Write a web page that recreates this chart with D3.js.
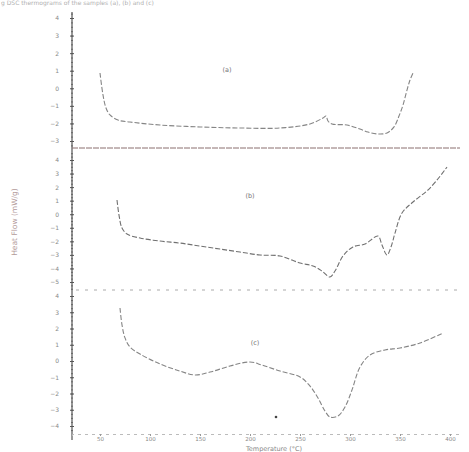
<!DOCTYPE html>
<html><head><meta charset="utf-8">
<script src="https://cdn.jsdelivr.net/npm/d3@7/dist/d3.min.js"></script>
<style>
html,body{margin:0;padding:0;background:#fff;}
svg{display:block;font-family:"DejaVu Sans",sans-serif;}
</style></head>
<body>
<svg id="chart" width="469" height="452"></svg>
<script>
// Temperature axis
const xTicks = [50, 100, 150, 200, 250, 300, 350, 400];

// Curve (a)
const tempA = [50,53,56,60,68,80,110,150,190,230,260,273,276,278,282,297,310,318,328,337,344,349,353,357,360,363];
const flowA = [0.87,-0.38,-1.12,-1.52,-1.81,-1.92,-2.09,-2.20,-2.26,-2.26,-2.03,-1.69,-1.58,-1.86,-2.03,-2.09,-2.32,-2.49,-2.60,-2.54,-2.20,-1.58,-0.95,-0.10,0.47,0.87];

// Curve (b)
const tempB = [67,69,72,77,90,110,130,150,170,190,210,230,250,263,272,280,285,293,303,315,328,332,337,341,345,352,363,380,397];
const flowB = [1.05,-0.06,-1.02,-1.46,-1.76,-1.98,-2.13,-2.35,-2.57,-2.79,-3.01,-3.08,-3.60,-3.82,-4.19,-4.63,-4.19,-3.08,-2.41,-2.20,-1.61,-2.27,-3.01,-2.42,-1.39,0.09,0.90,1.93,3.48];

// Curve (c)
const tempC = [70,72,75,80,90,110,130,145,160,180,200,212,230,250,260,268,275,280,288,295,302,310,320,335,350,370,393];
const flowC = [3.26,2.22,1.42,0.86,0.43,-0.18,-0.62,-0.86,-0.68,-0.31,-0.06,-0.25,-0.62,-0.98,-1.54,-2.28,-3.08,-3.45,-3.38,-2.83,-1.78,-0.37,0.37,0.68,0.80,1.11,1.72];

// Y tick labels per panel
const yTicksA = [4, 3, 2, 1, 0, -1, -2, -3];
const yTicksB = [4, 3, 2, 1, 0, -1, -2, -3, -4, -5];
const yTicksC = [4, 3, 2, 1, 0, -1, -2, -3, -4];

// Isolated marker in panel (c)
const markT = [226];
const markV = [-3.45];

const panelNames = ["(a)", "(b)", "(c)"];
const labelT = [177, 200, 205];
const labelV = [0.9, 1.2, 1.0];

const svg = d3.select("#chart");
const axisX0 = 72, axisX1 = 460;
const x = d3.scaleLinear().domain([22, 410]).range([axisX0, axisX1]);

// Vertical layout of the three stacked panels
const panels = [
  {temp: tempA, flow: flowA, ticks: yTicksA, top: 10, bottom: 148,
   y: d3.scaleLinear().domain([4, -3]).range([18, 141])},
  {temp: tempB, flow: flowB, ticks: yTicksB, top: 148, bottom: 290,
   y: d3.scaleLinear().domain([4, -5]).range([160, 282])},
  {temp: tempC, flow: flowC, ticks: yTicksC, top: 290, bottom: 434,
   y: d3.scaleLinear().domain([4, -4]).range([296, 426])}
];

// Caption line along the top edge
svg.append("text").attr("x", 1).attr("y", 5)
  .attr("font-size", 6).attr("fill", "#b0b0b0")
  .text("g  DSC thermograms of the samples (a), (b) and (c)");

// Continuous left axis line
svg.append("line").attr("x1", axisX0).attr("x2", axisX0)
  .attr("y1", 12).attr("y2", 440)
  .attr("stroke", "#555").attr("stroke-width", 1.2);

panels.forEach((p, i) => {
  // minor ticks
  const minor = d3.range(Math.ceil(p.y.invert(p.bottom) * 4) / 4, p.y.invert(p.top + 2), 0.25);
  const gMinor = svg.append("g").attr("transform", `translate(${axisX0},0)`)
    .call(d3.axisLeft(p.y).tickValues(minor).tickSize(2).tickFormat(""));
  gMinor.select(".domain").remove();
  gMinor.selectAll("line").attr("stroke", "#666").attr("transform", "translate(1,0)");

  const g = svg.append("g").attr("transform", `translate(${axisX0},0)`)
    .call(d3.axisLeft(p.y).tickValues(p.ticks).tickSize(4).tickPadding(9).tickFormat(d3.format("d")));
  g.select(".domain").remove();
  g.selectAll("line").attr("stroke", "#555").attr("transform", "translate(2,0)");
  g.selectAll("text").attr("font-size", 6).attr("fill", "#888").attr("font-family", "DejaVu Sans");

  // curve
  const line = d3.line().curve(d3.curveCatmullRom.alpha(0.5))
    .x((d, k) => x(p.temp[k])).y((d, k) => p.y(p.flow[k]));
  svg.append("path").datum(p.flow).attr("d", line)
    .attr("fill", "none").attr("stroke", i === 1 ? "#707070" : "#858585")
    .attr("stroke-width", 1.1).attr("stroke-dasharray", "5,2");

  // panel label
  svg.append("text").attr("x", x(labelT[i])).attr("y", p.y(labelV[i]))
    .attr("font-size", 6.5).attr("fill", "#777").attr("text-anchor", "middle")
    .text(panelNames[i]);
});

// Panel separators
svg.append("line").attr("x1", axisX0).attr("x2", axisX1)
  .attr("y1", 148).attr("y2", 148)
  .attr("stroke", "#8a6f6f").attr("stroke-width", 1).attr("stroke-dasharray", "6,1");
svg.append("line").attr("x1", axisX0 + 4).attr("x2", axisX1)
  .attr("y1", 290).attr("y2", 290)
  .attr("stroke", "#aaa").attr("stroke-width", 1).attr("stroke-dasharray", "3,6");

// Marker point
svg.selectAll("circle.mark").data(markT).enter().append("circle")
  .attr("class", "mark")
  .attr("cx", (d) => x(d)).attr("cy", (d, k) => panels[2].y(markV[k]))
  .attr("r", 1.3).attr("fill", "#444");

// Bottom temperature axis
const gx = svg.append("g").attr("transform", "translate(0,434)")
  .call(d3.axisBottom(x).tickValues(xTicks).tickSize(2).tickPadding(1));
gx.select(".domain").attr("stroke", "#bbb").attr("stroke-dasharray", "3,4");
gx.selectAll("line").attr("stroke", "#999");
gx.selectAll("text").attr("font-size", 5.5).attr("fill", "#888").attr("font-family", "DejaVu Sans");

// Axis titles
svg.append("text").attr("x", 274).attr("y", 451)
  .attr("font-size", 6.5).attr("fill", "#888").attr("text-anchor", "middle")
  .text("Temperature (°C)");
svg.append("text")
  .attr("transform", "translate(17,222) rotate(-90)")
  .attr("font-size", 7.5).attr("fill", "#b39a9a").attr("text-anchor", "middle")
  .text("Heat Flow (mW/g)");
</script>
</body></html>
